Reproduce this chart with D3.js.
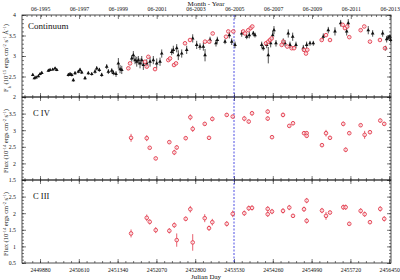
<!DOCTYPE html>
<html>
<head>
<meta charset="utf-8">
<script src="https://cdn.jsdelivr.net/npm/d3@7"></script>
<style>
  body { margin: 0; background: #fff; }
  text { font-family: "Liberation Serif", "DejaVu Serif", serif; fill: #111; }
</style>
</head>
<body>
<div id="chart"></div>
<script>
// continuum, black points (ground based)
const contBlackJD = [2449744,2449774,2449806,2449849,2449881,2449913,2450037,2450069,2450120,2450163,
  2450195,2450413,2450445,2450477,2450507,2450539,2450601,2450633,2450665,2450727,
  2450789,2450853,2450915,2450947,2450996,2451041,2451135,2451166,2451230,2451260,
  2451310,2451354,2451386,2451418,2451606,2451636,2451668,2451700,2451730,2451762,
  2451794,2451824,2451888,2451950,2452012,2452076,2452138,2452170,2452358,2452388,
  2452452,2452482,2452546,2452640,2452753,2452828,2452890,2452953,2452985,2453079,
  2453191,2453216,2453361,2453442,2453487,2453549,2453675,2453769,2453818,2453893,
  2453925,2454051,2454081,2454145,2454175,2454220,2454258,2454282,2454320,2454457,
  2454489,2454551,2454583,2454634,2454696,2454834,2454897,2454960,2455022,2455210,
  2455304,2455430,2455537,2455650,2455680,2456056,2456139,2456327,2456383,2456402,
  2456432,2456464,2456475];
const contBlackFlux = [2.54,2.46,2.48,2.51,2.56,2.59,2.64,2.66,2.67,2.70,
  2.66,2.54,2.56,2.54,2.41,2.58,2.62,2.66,2.60,2.46,
  2.58,2.56,2.62,2.70,2.66,2.54,2.74,2.62,2.64,2.59,
  2.56,2.82,2.68,2.66,2.94,3.02,2.90,2.86,2.90,2.82,
  2.90,2.78,2.82,2.86,2.90,2.82,2.86,3.06,3.10,3.15,
  3.19,3.02,3.06,3.15,3.43,3.27,3.23,3.23,3.02,3.39,
  3.31,3.39,3.35,3.51,3.35,3.27,3.55,3.47,3.51,3.55,
  3.51,3.27,3.19,3.27,3.02,3.31,3.51,3.63,3.31,3.35,
  3.31,3.55,3.27,3.47,3.27,3.19,3.27,3.31,3.31,3.47,
  3.63,3.60,3.80,3.60,3.80,3.63,3.55,3.55,3.19,3.41,
  3.45,3.47,3.39];
const contBlackErr = [0.03,0.03,0.03,0.03,0.03,0.03,0.03,0.03,0.03,0.03,
  0.03,0.04,0.04,0.04,0.04,0.04,0.04,0.05,0.04,0.04,
  0.04,0.04,0.05,0.05,0.05,0.05,0.06,0.06,0.06,0.06,
  0.07,0.13,0.10,0.10,0.08,0.10,0.10,0.12,0.10,0.12,
  0.10,0.12,0.10,0.12,0.10,0.12,0.10,0.10,0.08,0.10,
  0.10,0.12,0.10,0.10,0.10,0.10,0.08,0.10,0.15,0.08,
  0.08,0.08,0.06,0.08,0.08,0.08,0.08,0.06,0.08,0.06,
  0.06,0.08,0.06,0.08,0.20,0.10,0.10,0.10,0.08,0.08,
  0.08,0.10,0.08,0.10,0.08,0.08,0.08,0.06,0.06,0.08,
  0.08,0.10,0.08,0.10,0.10,0.10,0.08,0.08,0.06,0.08,
  0.06,0.06,0.06];

// continuum, red points (UV)
const contRedJD = [2451542,2451574,2451856,2451888,2451918,2452044,2452294,2452326,2452401,2452439,
  2452608,2452702,2452985,2453065,2453129,2453380,2453423,2453517,2453705,2453737,
  2453799,2453844,2453874,2454132,2454175,2454207,2454239,2454427,2454457,2454533,
  2454615,2454659,2454847,2454884,2454909,2455180,2455261,2455336,2455575,2455618,
  2455661,2455699,2455913,2455981,2456088,2456276,2456370];
const contRedFlux = [2.70,2.82,2.86,2.74,2.98,2.68,2.90,2.94,2.78,2.82,
  3.31,3.39,3.35,3.35,3.55,3.47,3.60,3.60,3.60,3.55,
  3.63,3.68,3.72,3.31,3.35,3.39,3.43,3.27,3.35,3.23,
  3.19,3.19,3.15,3.06,3.15,3.39,3.51,3.39,3.76,3.68,
  3.72,3.46,3.63,3.72,3.35,3.39,3.19];

// emission lines, same epochs
const uvJD = [2451593,2451888,2451944,2452057,2452313,2452407,2452452,2452621,2452708,2452753,
  2452979,2453060,2453122,2453393,2453506,2453724,2453807,2453869,2454164,2454164,
  2454245,2454452,2454570,2454640,2454847,2454897,2454897,2455185,2455261,2455336,
  2455586,2455631,2455699,2455913,2455988,2456088,2456282,2456357];
const civFlux = [2.77,2.76,2.47,2.15,2.64,2.33,2.48,2.76,3.39,3.04,
  3.19,2.77,3.34,3.46,3.41,3.35,3.26,3.51,3.56,3.35,
  2.79,3.46,3.13,3.21,2.91,2.91,2.83,2.55,2.91,2.77,
  3.19,2.41,2.91,3.15,2.86,2.94,3.29,3.19];
const civErr = [0.12,0.09,0.04,0.05,0.05,0.08,0.07,0.06,0.09,0.09,
  0.06,0.05,0.07,0.06,0.05,0.08,0.06,0.07,0.07,0.07,
  0.05,0.07,0.05,0.06,0.06,0.06,0.06,0.06,0.10,0.06,
  0.07,0.07,0.05,0.05,0.12,0.06,0.06,0.06];
const ciiiFlux = [1.39,1.86,1.74,1.49,1.47,1.64,1.19,1.83,2.12,1.12,
  1.85,1.55,1.73,1.68,1.98,2.00,2.15,2.16,2.13,1.97,
  2.05,2.07,2.17,1.92,2.12,2.38,1.77,2.08,1.92,2.02,
  2.18,2.18,1.68,2.07,1.97,1.73,2.13,1.83];
const ciiiErr = [0.12,0.10,0.08,0.09,0.08,0.08,0.20,0.07,0.10,0.25,
  0.12,0.08,0.10,0.08,0.10,0.08,0.08,0.08,0.08,0.08,
  0.08,0.08,0.08,0.06,0.08,0.08,0.08,0.08,0.12,0.06,
  0.08,0.08,0.06,0.08,0.08,0.06,0.08,0.08];

const jdTicks = d3.range(2449880, 2456451, 730);
const monthYears = d3.range(1995, 2014, 2);
const markerJD = 2453530;

const width = 400, height = 280;
const left = 22, right = 391;
const red = "#e2384a";

const svg = d3.select("#chart").append("svg")
  .attr("width", width).attr("height", height);

const x = d3.scaleLinear().domain([2449541, 2456484]).range([left, right]);
const toJD = d => d.getTime() / 86400000 + 2440587.5;

const panels = [
  { top: 15, bottom: 97, domain: [2, 4], label: "Continuum", lx: 28, ly: 29 },
  { top: 97, bottom: 180, domain: [1.5, 4], label: "C IV", lx: 33, ly: 116 },
  { top: 180, bottom: 263, domain: [0.5, 3], label: "C III", lx: 33, ly: 199 }
];
panels.forEach(p => {
  p.y = d3.scaleLinear().domain(p.domain).range([p.bottom, p.top]);
});

const minorX = d3.range(2449880 - 146 * 2, 2456484, 146);

panels.forEach((p, k) => {
  const g = svg.append("g");
  const yMajor = d3.range(p.domain[0], p.domain[1] + 0.001, 0.5);
  const yMinor = d3.range(p.domain[0], p.domain[1] + 0.001, 0.1);
  const yLab = k === 0 ? yMajor : yMajor.slice(0, -1);

  // bottom ticks
  const bot = g.append("g").attr("transform", `translate(0,${p.bottom})`);
  bot.append("g").call(d3.axisBottom(x).tickValues(minorX).tickSize(-2).tickFormat(""));
  bot.append("g").call(d3.axisBottom(x).tickValues(jdTicks).tickSize(-4)
    .tickPadding(5).tickFormat(k === 2 ? d3.format("d") : ""));
  // top ticks
  const top = g.append("g").attr("transform", `translate(0,${p.top})`);
  if (k === 0) {
    const monthMinor = [];
    for (let yr = 1994; yr <= 2014; yr++) {
      for (let m = 0; m < 12; m += 3) monthMinor.push(toJD(new Date(Date.UTC(yr, m, 1))));
    }
    top.append("g").call(d3.axisTop(x).tickValues(monthMinor.filter(v => v > 2449541 && v < 2456484))
      .tickSize(-2).tickFormat(""));
    top.append("g").call(d3.axisTop(x)
      .tickValues(monthYears.map(yr => toJD(new Date(Date.UTC(yr, 5, 15)))))
      .tickSize(-4).tickPadding(4)
      .tickFormat((d, i) => "06-" + monthYears[i]));
  } else {
    top.append("g").call(d3.axisTop(x).tickValues(minorX).tickSize(-2).tickFormat(""));
    top.append("g").call(d3.axisTop(x).tickValues(jdTicks).tickSize(-4).tickFormat(""));
  }
  // left / right ticks
  const lg = g.append("g").attr("transform", `translate(${left},0)`);
  lg.append("g").call(d3.axisLeft(p.y).tickValues(yMinor).tickSize(-2).tickFormat(""));
  lg.append("g").call(d3.axisLeft(p.y).tickValues(yMajor).tickSize(-4).tickPadding(6)
    .tickFormat(v => yLab.includes(v) ? d3.format("~g")(v) : ""));
  const rg = g.append("g").attr("transform", `translate(${right},0)`);
  rg.append("g").call(d3.axisRight(p.y).tickValues(yMinor).tickSize(-2).tickFormat(""));
  rg.append("g").call(d3.axisRight(p.y).tickValues(yMajor).tickSize(-4).tickFormat(""));

  g.selectAll(".domain").remove();
  g.selectAll(".tick line").attr("stroke", "#222").attr("stroke-width", 0.6);
  g.selectAll(".tick text").attr("font-size", 5.8)
    .attr("font-family", "Liberation Serif").attr("fill", "#111");

  g.append("rect")
    .attr("x", left).attr("y", p.top)
    .attr("width", right - left).attr("height", p.bottom - p.top)
    .attr("fill", "none").attr("stroke", "#222").attr("stroke-width", 0.8);

  g.append("text").attr("x", p.lx).attr("y", p.ly)
    .attr("font-size", k === 0 ? 9 : 8.5).text(p.label);
});

// dashed marker line
svg.append("line")
  .attr("x1", x(markerJD)).attr("x2", x(markerJD))
  .attr("y1", 15).attr("y2", 263)
  .attr("stroke", "#3a3ae0").attr("stroke-width", 0.9)
  .attr("stroke-dasharray", "2,1.5");

function errorBars(p, jd, flux, err, color) {
  svg.append("g").selectAll("line")
    .data(jd.map((d, i) => [d, flux[i], err[i]]))
    .join("line")
    .attr("x1", d => x(d[0])).attr("x2", d => x(d[0]))
    .attr("y1", d => p.y(d[1] - d[2])).attr("y2", d => p.y(d[1] + d[2]))
    .attr("stroke", color).attr("stroke-width", 0.8);
}
function circles(p, jd, flux) {
  svg.append("g").selectAll("circle")
    .data(jd.map((d, i) => [d, flux[i]]))
    .join("circle")
    .attr("cx", d => x(d[0])).attr("cy", d => p.y(d[1]))
    .attr("r", 1.8)
    .attr("fill", "#fff").attr("fill-opacity", 0.6)
    .attr("stroke", red).attr("stroke-width", 0.9);
}

// continuum panel
const p0 = panels[0];
errorBars(p0, contBlackJD, contBlackFlux, contBlackErr, "#222");
svg.append("g").selectAll("path")
  .data(contBlackJD.map((d, i) => [d, contBlackFlux[i]]))
  .join("path")
  .attr("transform", d => `translate(${x(d[0])},${p0.y(d[1])})`)
  .attr("d", d3.symbol(d3.symbolTriangle, 6))
  .attr("fill", "#111");
errorBars(p0, contRedJD, contRedFlux, contRedJD.map(() => 0.03), red);
circles(p0, contRedJD, contRedFlux);

// C IV
errorBars(panels[1], uvJD, civFlux, civErr, red);
circles(panels[1], uvJD, civFlux);

// C III
errorBars(panels[2], uvJD, ciiiFlux, ciiiErr, red);
circles(panels[2], uvJD, ciiiFlux);

// axis titles
svg.append("text").attr("x", 206).attr("y", 5.5)
  .attr("text-anchor", "middle").attr("font-size", 7).text("Month - Year");
svg.append("text").attr("x", 206).attr("y", 279)
  .attr("text-anchor", "middle").attr("font-size", 7).text("Julian Day");

function yTitle(cy, parts) {
  const t = svg.append("text")
    .attr("transform", `translate(8,${cy}) rotate(-90)`)
    .attr("text-anchor", "middle").attr("font-size", 6.5);
  parts.forEach(([s, shift]) => {
    const ts = t.append("tspan").text(s);
    if (shift) ts.attr("baseline-shift", shift).attr("font-size", 4.5);
  });
}
yTitle(58, [["F", null], ["λ", "sub"], [" (10", null], ["-15", "super"], [" ergs cm", null],
  ["-2", "super"], [" s", null], ["-1", "super"], [" Å", null], ["-1", "super"], [")", null]]);
yTitle(141, [["Flux (10", null], ["-14", "super"], [" ergs cm", null],
  ["-2", "super"], [" s", null], ["-1", "super"], [")", null]]);
yTitle(224, [["Flux (10", null], ["-14", "super"], [" ergs cm", null],
  ["-2", "super"], [" s", null], ["-1", "super"], [")", null]]);
</script>
</body>
</html>
